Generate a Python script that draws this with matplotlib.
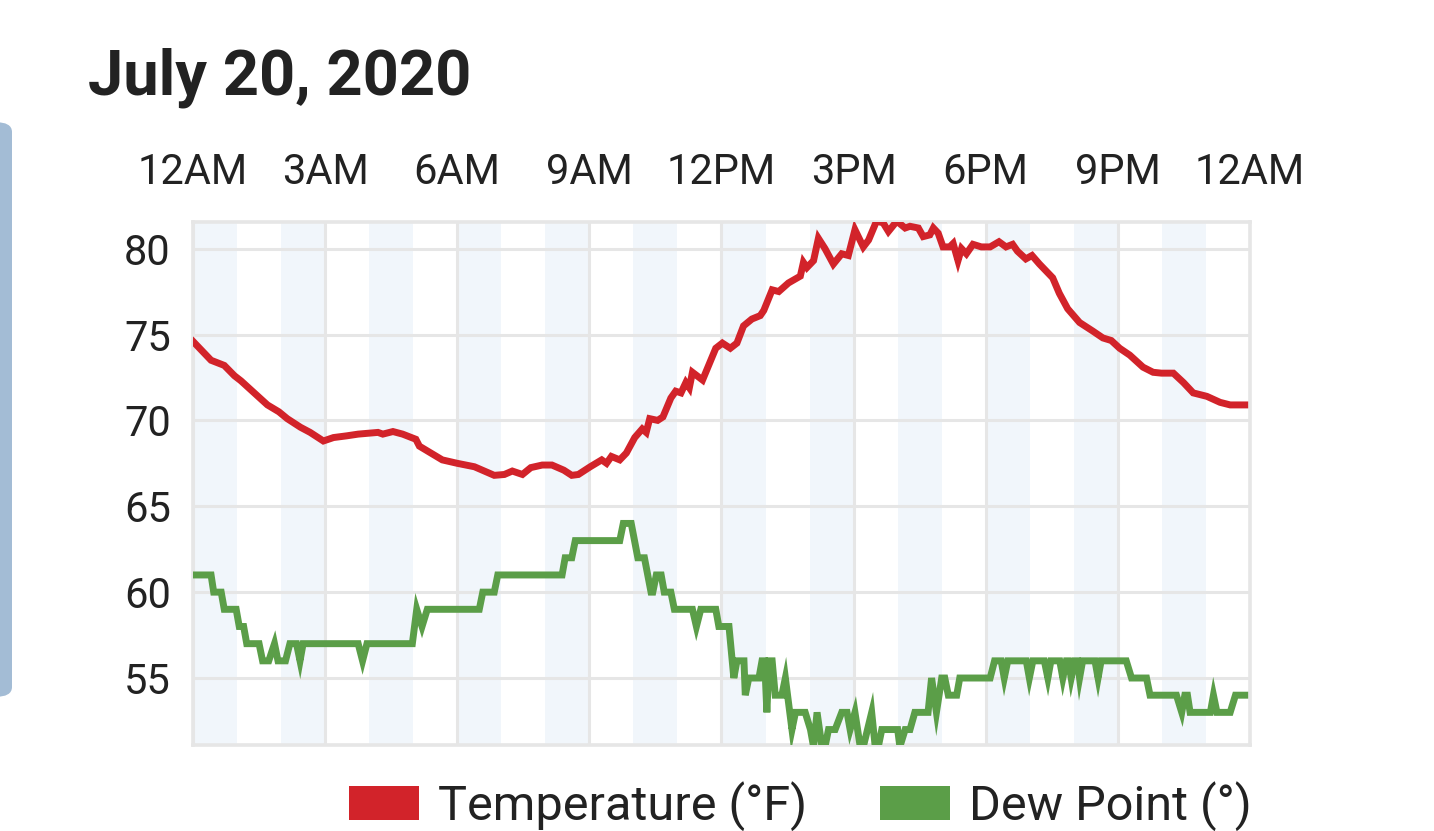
import matplotlib
matplotlib.use("Agg")
import matplotlib.pyplot as plt
from matplotlib.patches import Patch, FancyBboxPatch

plt.rcParams['font.family'] = ['Roboto', 'DejaVu Sans']

title = "July 20, 2020"
tick_hours = [0, 3, 6, 9, 12, 15, 18, 21, 24]
tick_labels = ["12AM", "3AM", "6AM", "9AM", "12PM", "3PM", "6PM", "9PM", "12AM"]
y_ticks = [55, 60, 65, 70, 75, 80]

temp_hours = [0.0, 0.41, 0.71, 0.94, 1.09, 1.39, 1.69, 1.95, 2.14, 2.44,
              2.66, 2.96, 3.19, 3.49, 3.75, 4.2, 4.31, 4.54, 4.76, 5.06,
              5.14, 5.4, 5.66, 6.0, 6.39, 6.84, 7.07, 7.25, 7.48, 7.67,
              7.93, 8.15, 8.42, 8.6, 8.75, 9.02, 9.28, 9.39, 9.5, 9.69,
              9.84, 10.03, 10.2, 10.29, 10.37, 10.55, 10.67, 10.85, 10.96, 11.08,
              11.19, 11.27, 11.34, 11.57, 11.87, 12.02, 12.2, 12.35, 12.5, 12.69,
              12.88, 12.96, 13.15, 13.3, 13.52, 13.79, 13.86, 13.94, 14.09, 14.2,
              14.35, 14.54, 14.73, 14.88, 15.03, 15.22, 15.34, 15.52, 15.67, 15.79,
              15.98, 16.17, 16.28, 16.47, 16.58, 16.73, 16.81, 16.92, 17.03, 17.18,
              17.26, 17.37, 17.45, 17.56, 17.71, 17.9, 18.1, 18.3, 18.46, 18.61,
              18.72, 18.91, 19.05, 19.22, 19.52, 19.67, 19.86, 20.13, 20.43, 20.66,
              20.85, 21.04, 21.27, 21.57, 21.8, 21.99, 22.26, 22.49, 22.71, 23.02,
              23.32, 23.55, 23.88]
temp_values = [74.6, 73.5, 73.2, 72.6, 72.3, 71.6, 70.9, 70.5, 70.1, 69.6,
               69.3, 68.8, 69.0, 69.1, 69.2, 69.3, 69.2, 69.35, 69.2, 68.9,
               68.5, 68.1, 67.7, 67.5, 67.3, 66.8, 66.85, 67.05, 66.85, 67.25,
               67.4, 67.4, 67.1, 66.8, 66.85, 67.3, 67.7, 67.5, 67.9, 67.7,
               68.1, 69.0, 69.5, 69.3, 70.1, 70.0, 70.2, 71.3, 71.7, 71.6,
               72.2, 71.9, 72.8, 72.35, 74.2, 74.5, 74.2, 74.5, 75.5, 75.9,
               76.1, 76.4, 77.6, 77.5, 78.0, 78.4, 79.2, 78.9, 79.3, 80.6,
               80.0, 79.1, 79.7, 79.6, 81.1, 80.1, 80.5, 81.6, 81.5, 81.0,
               81.6, 81.2, 81.3, 81.2, 80.7, 80.8, 81.2, 80.9, 80.1, 80.1,
               80.3, 79.3, 80.0, 79.7, 80.25, 80.1, 80.1, 80.4, 80.1, 80.25,
               79.85, 79.4, 79.6, 79.1, 78.3, 77.4, 76.5, 75.7, 75.2, 74.8,
               74.65, 74.2, 73.8, 73.1, 72.8, 72.75, 72.75, 72.2, 71.6, 71.4,
               71.05, 70.9, 70.9]

dew_hours = [0.0, 0.41, 0.47, 0.64, 0.71, 0.98, 1.05, 1.15, 1.22, 1.5,
             1.58, 1.72, 1.85, 1.93, 2.1, 2.2, 2.35, 2.43, 2.5, 3.75,
             3.85, 3.95, 4.98, 5.08, 5.2, 5.32, 6.5, 6.58, 6.84, 6.92,
             8.38, 8.45, 8.6, 8.68, 9.69, 9.77, 9.95, 10.1, 10.25, 10.4,
             10.44, 10.52, 10.63, 10.7, 10.85, 10.93, 11.34, 11.43, 11.53, 11.87,
             11.94, 12.17, 12.28, 12.35, 12.51, 12.54, 12.62, 12.85, 12.92, 12.98,
             13.03, 13.08, 13.15, 13.22, 13.37, 13.45, 13.6, 13.68, 13.9, 14.02,
             14.09, 14.17, 14.28, 14.35, 14.43, 14.58, 14.73, 14.85, 14.92, 15.03,
             15.15, 15.22, 15.41, 15.49, 15.56, 15.64, 16.0, 16.05, 16.17, 16.28,
             16.39, 16.69, 16.77, 16.88, 17.0, 17.07, 17.15, 17.34, 17.41, 18.1,
             18.2, 18.35, 18.42, 18.5, 18.92, 18.99, 19.07, 19.33, 19.41, 19.48,
             19.68, 19.75, 19.83, 19.88, 19.94, 20.02, 20.08, 20.13, 20.2, 20.48,
             20.55, 20.62, 21.19, 21.31, 21.65, 21.73, 22.33, 22.45, 22.52, 22.58,
             22.64, 23.1, 23.17, 23.25, 23.55, 23.67, 23.88]
dew_values = [61, 61, 60, 60, 59, 59, 58, 58, 57, 57,
              56, 56, 57, 56, 56, 57, 57, 56, 57, 57,
              56, 57, 57, 59, 58, 59, 59, 60, 60, 61,
              61, 62, 62, 63, 63, 64, 64, 62, 62, 60,
              60, 61, 61, 60, 60, 59, 59, 58, 59, 59,
              58, 58, 55, 56, 56, 54, 55, 55, 56, 56,
              53, 56, 56, 54, 54, 55, 52, 53, 53, 52,
              51, 53, 51, 51, 52, 52, 53, 53, 52, 53,
              51, 51, 53, 51, 51, 52, 52, 51, 52, 52,
              53, 53, 55, 53, 55, 55, 54, 54, 55, 55,
              56, 56, 55, 56, 56, 55, 56, 56, 55, 56,
              56, 55, 56, 56, 55, 56, 56, 55, 56, 56,
              55, 56, 56, 55, 55, 54, 54, 53, 54, 54,
              53, 53, 54, 53, 53, 54, 54]

W, H = 1434, 831
fig = plt.figure(figsize=(W / 100, H / 100), dpi=100)
fig.patch.set_facecolor("white")

# side panel edge from the app screenshot
fig.patches.append(FancyBboxPatch((-20 / W, 1 - 697 / H), 32 / W, 575 / H,
                                  boxstyle="round,pad=0,rounding_size=0.012",
                                  transform=fig.transFigure, facecolor="#a3bcd5",
                                  edgecolor="none"))

ax = fig.add_axes([193 / W, 1 - 745 / H, 1057 / W, 523 / H])

for h in range(0, 24, 2):
    ax.axvspan(h, h + 1, color="#f1f6fb", lw=0, zorder=0)

ax.plot(temp_hours, temp_values, color="#d2232a", lw=5.0,
        solid_joinstyle="miter", zorder=3)
ax.plot(dew_hours, dew_values, color="#5b9e48", lw=5.0,
        solid_joinstyle="miter", zorder=3)

ax.set_xlim(0, 24)
ax.set_ylim(51.1, 81.55)
ax.set_xticks(tick_hours)
ax.set_xticklabels(tick_labels)
ax.set_yticks(y_ticks)
ax.xaxis.tick_top()
ax.tick_params(axis="x", length=0, pad=21, labelsize=30, labelcolor="#222222")
ax.tick_params(axis="y", length=0, pad=16, labelsize=30, labelcolor="#222222")
ax.grid(True, color="#e6e6e6", lw=2.2, zorder=1)
ax.set_axisbelow(True)
for s in ax.spines.values():
    s.set_color("#e6e6e6")
    s.set_linewidth(2.6)

fig.text(88 / W, 1 - 95 / H, title, fontsize=45.5, fontweight="bold",
         color="#222222", va="baseline", ha="left")

handles = [Patch(facecolor="#d2232a", edgecolor="none", label="Temperature (°F)"),
           Patch(facecolor="#5b9e48", edgecolor="none", label="Dew Point (°)")]
leg = fig.legend(handles=handles, loc="center", bbox_to_anchor=(800 / W, 1 - 806 / H),
                 ncol=2, frameon=False, fontsize=35, handlelength=1.45,
                 handleheight=0.72, handletextpad=0.38, columnspacing=1.5,
                 borderpad=0, borderaxespad=0)
for t in leg.get_texts():
    t.set_color("#222222")

fig.savefig("out.png", dpi=100)
